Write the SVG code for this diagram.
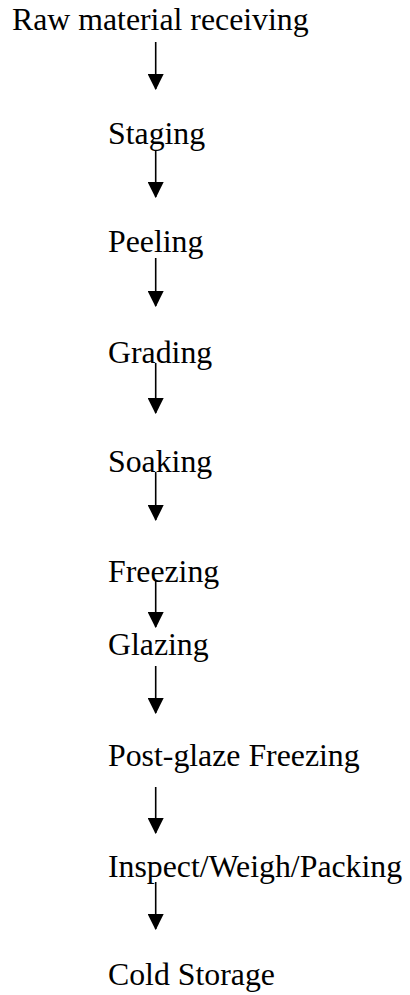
<svg xmlns="http://www.w3.org/2000/svg" width="410" height="995" viewBox="0 0 410 995">
<style>
text{font-family:"Liberation Serif","Times New Roman",serif;font-size:31.8px;fill:#000}
.c line{stroke:#000;stroke-width:1.6;marker-end:url(#ah)}
</style>
<defs>
<marker id="ah" markerUnits="userSpaceOnUse" markerWidth="16" markerHeight="16" viewBox="0 0 15 15" refX="14" refY="7.5" orient="auto">
<path d="M0 0 L15 7.5 L0 15 Z" fill="#000"/>
</marker>
</defs>
<rect width="410" height="995" fill="#fff"/>
<g id="n1"><text x="12" y="30">Raw material receiving</text></g>
<g id="n2"><text x="108" y="144">Staging</text></g>
<g id="n3"><text x="108" y="252">Peeling</text></g>
<g id="n4"><text x="108" y="363">Grading</text></g>
<g id="n5"><text x="108" y="472">Soaking</text></g>
<g id="n6"><text x="108" y="582">Freezing</text></g>
<g id="n7"><text x="108" y="655">Glazing</text></g>
<g id="n8"><text x="108" y="766">Post-glaze Freezing</text></g>
<g id="n9"><text x="108" y="877">Inspect/Weigh/Packing</text></g>
<g id="n10"><text x="108" y="985">Cold Storage</text></g>
<g id="connectors" class="c">
<line x1="155.7" y1="42" x2="155.7" y2="89"/>
<line x1="155.7" y1="150" x2="155.7" y2="197"/>
<line x1="155.7" y1="258" x2="155.7" y2="306"/>
<line x1="155.7" y1="363" x2="155.7" y2="413"/>
<line x1="155.7" y1="472" x2="155.7" y2="520"/>
<line x1="155.7" y1="580" x2="155.7" y2="627"/>
<line x1="155.7" y1="666" x2="155.7" y2="713"/>
<line x1="155.7" y1="787" x2="155.7" y2="833"/>
<line x1="155.7" y1="882" x2="155.7" y2="929"/>
</g>
</svg>
